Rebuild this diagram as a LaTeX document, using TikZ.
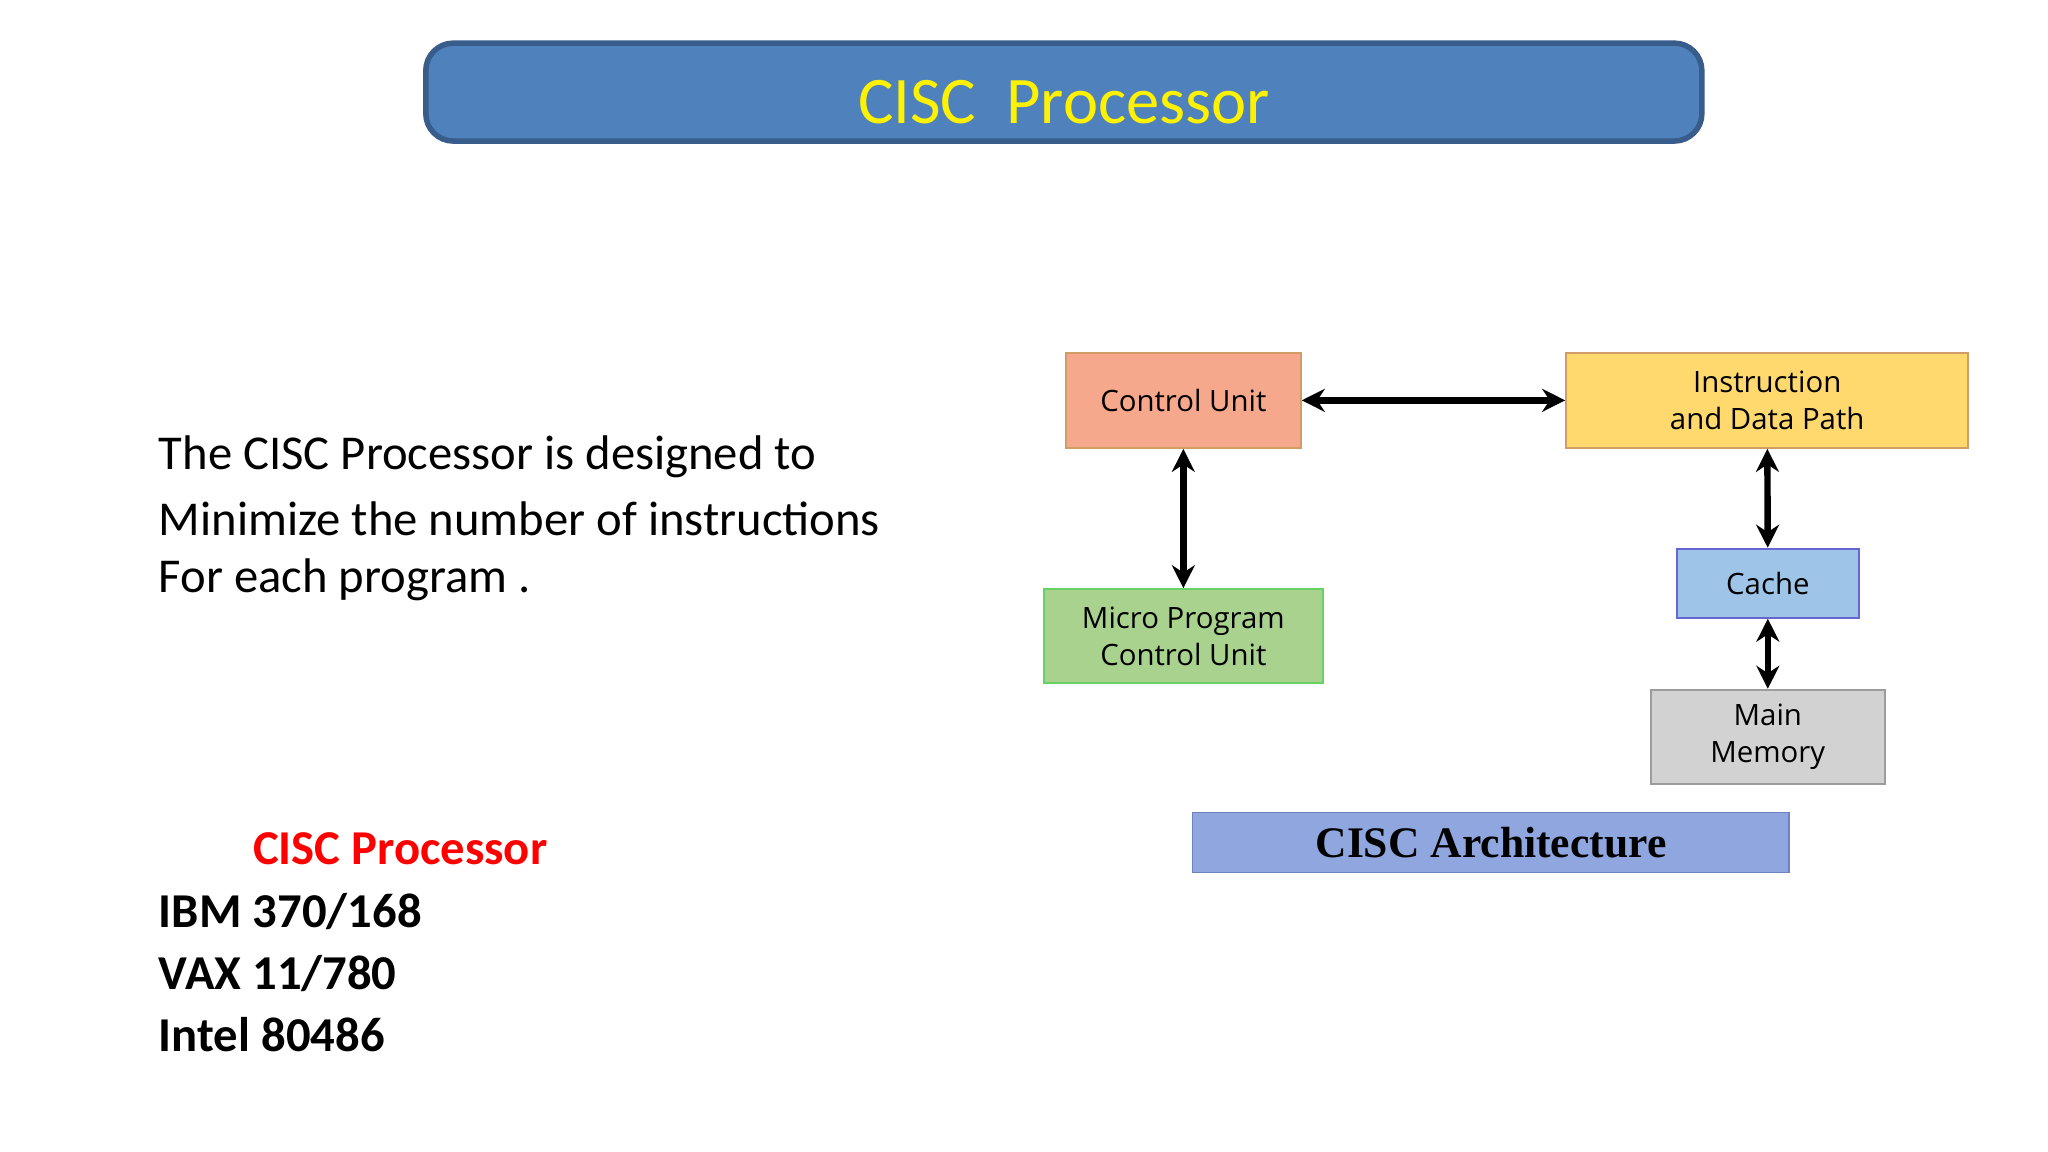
\documentclass[tikz,border=0pt]{standalone}
\usepackage{fontspec}
\setmainfont{Carlito}
\newfontfamily\diag{Open Sans}
\newfontfamily\archf{Liberation Serif}
\usetikzlibrary{arrows.meta}
\begin{document}
\begin{tikzpicture}[x=0.1mm,y=-0.1mm,
  box/.style={draw=#1!70!black!60,line width=0.4pt,inner sep=0pt,font=\diag\fontsize{6.4pt}{8pt}\selectfont,align=center},
  arr/.style={{Stealth[length=5pt,width=5pt]}-{Stealth[length=5pt,width=5pt]},line width=1.4pt},
  body/.style={anchor=west,inner sep=0pt,font=\fontsize{10.6pt}{12pt}\selectfont}]
\useasboundingbox (0,0) rectangle (1568,882);
\fill[white] (0,0) rectangle (1568,882);
\draw[fill={rgb,255:red,79;green,129;blue,189},draw={rgb,255:red,56;green,93;blue,138},line width=1.2pt,rounded corners=6pt] (326,33) rectangle (1303,108);
\node (title) at (814.5,78) {\fontsize{14.5pt}{16pt}\selectfont\color{yellow}CISC\ \ Processor};
\node[body] (t1) at (121,350) {The CISC Processor is designed to};
\node[body] (t2) at (121,397) {Minimize the number of instructions};
\node[body] (t3) at (121,444) {For each program .};
\node[body,font=\bfseries\fontsize{10.6pt}{12pt}\selectfont,text=red] (l0) at (193,650) {CISC Processor};
\node[body,font=\bfseries\fontsize{10.6pt}{12pt}\selectfont] (l1) at (121,698) {IBM 370/168};
\node[body,font=\bfseries\fontsize{10.6pt}{12pt}\selectfont] (l2) at (121,745) {VAX 11/780};
\node[body,font=\bfseries\fontsize{10.6pt}{12pt}\selectfont] (l3) at (121,792) {Intel 80486};
\node[box=orange,fill={rgb,255:red,245;green,168;blue,140},minimum width=18mm,minimum height=7.3mm] (cu) at (906,306.5) {Control Unit};
\node[box=orange,fill={rgb,255:red,255;green,217;blue,110},minimum width=30.8mm,minimum height=7.3mm] (idp) at (1353,306.5) {Instruction\\and Data Path};
\node[box=green,fill={rgb,255:red,168;green,210;blue,142},minimum width=21.4mm,minimum height=7.2mm] (mp) at (906,487) {Micro Program\\Control Unit};
\node[box=blue,fill={rgb,255:red,158;green,197;blue,232},minimum width=13.9mm,minimum height=5.3mm] (ca) at (1353.5,446.5) {Cache};
\node[box=gray,fill={rgb,255:red,210;green,210;blue,210},minimum width=17.9mm,minimum height=7.2mm] (mm) at (1353.5,564) {Main\\Memory};
\node[draw={rgb,255:red,110;green,130;blue,190},fill={rgb,255:red,143;green,166;blue,222},minimum width=45.7mm,minimum height=4.6mm,inner sep=0pt,font=\archf\bfseries\fontsize{9.5pt}{11pt}\selectfont] (arch) at (1141.5,645) {CISC Architecture};
\draw[arr] (cu) -- (idp);
\draw[arr] (cu) -- (mp);
\draw[arr] (idp) -- (ca);
\draw[arr] (ca) -- (mm);
\end{tikzpicture}
\end{document}
